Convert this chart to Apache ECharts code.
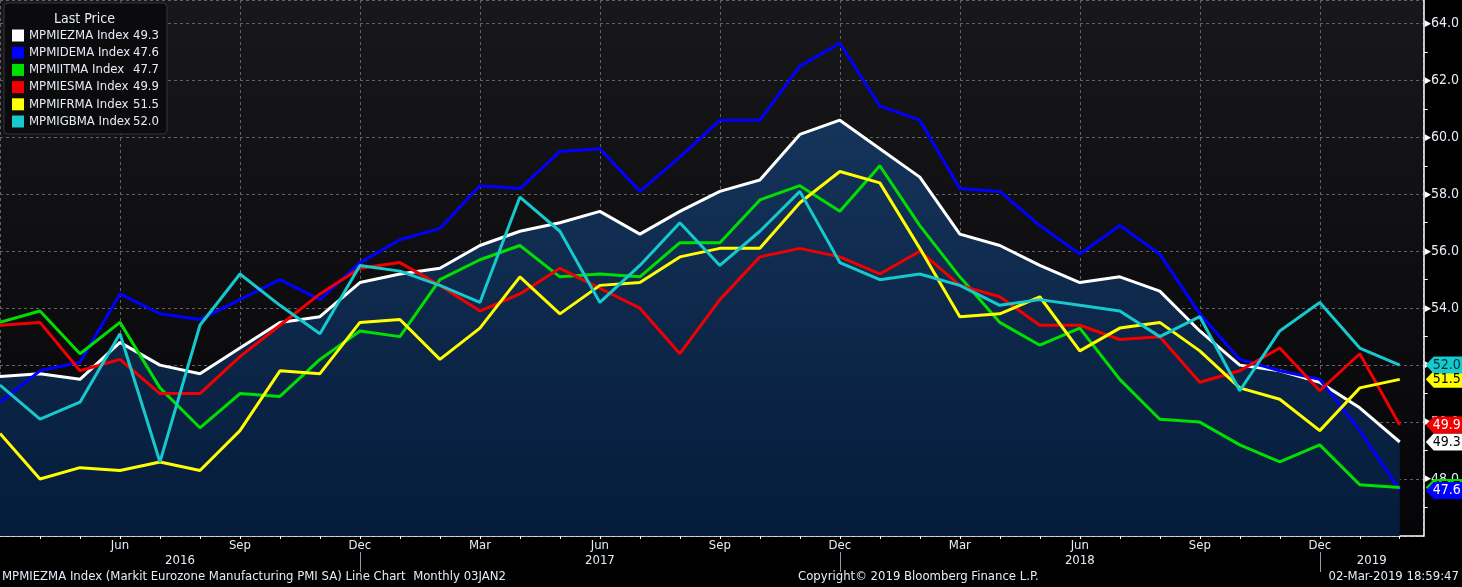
<!DOCTYPE html>
<html>
<head>
<meta charset="utf-8">
<script src="https://cdn.jsdelivr.net/npm/echarts@6/dist/echarts.min.js"></script>
<style>
html,body{margin:0;padding:0;background:#000;}
#chart{width:1462px;height:587px;}
</style>
</head>
<body>
<div id="chart"></div>
<script>
// ---- Data (monthly, Mar 2016 .. Feb 2019) ----
const dates = ['2016-03','2016-04','2016-05','2016-06','2016-07','2016-08','2016-09','2016-10','2016-11','2016-12',
  '2017-01','2017-02','2017-03','2017-04','2017-05','2017-06','2017-07','2017-08','2017-09','2017-10','2017-11','2017-12',
  '2018-01','2018-02','2018-03','2018-04','2018-05','2018-06','2018-07','2018-08','2018-09','2018-10','2018-11','2018-12',
  '2019-01','2019-02'];
const seriesNames = ['MPMIEZMA Index','MPMIDEMA Index','MPMIITMA Index','MPMIESMA Index','MPMIFRMA Index','MPMIGBMA Index'];
const ezValues = [51.6,51.7,51.5,52.8,52.0,51.7,52.6,53.5,53.7,54.9,55.2,55.4,56.2,56.7,57.0,57.4,56.6,57.4,58.1,58.5,60.1,60.6,59.6,58.6,56.6,56.2,55.5,54.9,55.1,54.6,53.2,52.0,51.8,51.4,50.5,49.3];
const deValues = [50.7,51.8,52.1,54.5,53.8,53.6,54.3,55.0,54.3,55.6,56.4,56.8,58.3,58.2,59.5,59.6,58.1,59.3,60.6,60.6,62.5,63.3,61.1,60.6,58.2,58.1,56.9,55.9,56.9,55.9,53.8,52.2,51.8,51.5,49.7,47.6];
const itValues = [53.5,53.9,52.4,53.5,51.2,49.8,51.0,50.9,52.2,53.2,53.0,55.0,55.7,56.2,55.1,55.2,55.1,56.3,56.3,57.8,58.3,57.4,59.0,56.9,55.1,53.5,52.7,53.3,51.5,50.1,50.0,49.2,48.6,49.2,47.8,47.7];
const esValues = [53.4,53.5,51.8,52.2,51.0,51.0,52.3,53.4,54.5,55.4,55.6,54.8,53.9,54.5,55.4,54.7,54.0,52.4,54.3,55.8,56.1,55.8,55.2,56.0,54.8,54.4,53.4,53.4,52.9,53.0,51.4,51.8,52.6,51.1,52.4,49.9];
const frValues = [49.6,48.0,48.4,48.3,48.6,48.3,49.7,51.8,51.7,53.5,53.6,52.2,53.3,55.1,53.8,54.8,54.9,55.8,56.1,56.1,57.7,58.8,58.4,56.1,53.7,53.8,54.4,52.5,53.3,53.5,52.5,51.2,50.8,49.7,51.2,51.5];
const gbValues = [51.3,50.1,50.7,53.1,48.6,53.4,55.2,54.1,53.1,55.5,55.3,54.8,54.2,57.9,56.7,54.2,55.5,57.0,55.5,56.7,58.1,55.6,55.0,55.2,54.8,54.1,54.3,54.1,53.9,53.0,53.7,51.1,53.2,54.2,52.6,52.0];
const monthNames = ['Jan','Feb','Mar','Apr','May','Jun','Jul','Aug','Sep','Oct','Nov','Dec'];
const yTickValues = [48,50,52,54,56,58,60,62,64];

// ---- Styles ----
const FONT = '"DejaVu Sans Condensed","Liberation Sans Narrow","DejaVu Sans",sans-serif';
const TXT = '#e6ecf7';
const XMAX = 35.6;
const allValues = [ezValues, deValues, itValues, esValues, frValues, gbValues];
const colors = ['#ffffff','#0000ff','#00e000','#f00000','#ffff00','#15c9cc'];
const tagText = ['#000000','#ffffff','#000000','#ffffff','#000000','#06303a'];
const tagZ = [5,7,5,5,5,5];

const lastMap = {};
seriesNames.forEach((n,i)=>{ lastMap[n] = allValues[i][allValues[i].length-1].toFixed(1); });

// year separators / labels derived from dates
const sepIdx = [];
dates.forEach((d,i)=>{ if (d.slice(5) === '12') sepIdx.push(i); });
const bounds = [0].concat(sepIdx, [XMAX]);
const yearCenters = [];
const yearOfCenter = {};
for (let k=0;k<bounds.length-1;k++){
  const c = Math.round((bounds[k]+bounds[k+1])/2*100)/100;
  yearCenters.push(c);
  yearOfCenter[c] = dates[Math.min(Math.ceil(bounds[k]) + (k===0?0:1), dates.length-1)].slice(0,4);
}

const series = seriesNames.map((name,i)=>{
  const vals = allValues[i];
  const last = vals[vals.length-1];
  const s = {
    name: name,
    type: 'line',
    xAxisIndex: 0,
    yAxisIndex: 0,
    data: vals.map((v,j)=>[j,v]),
    symbol: 'none',
    color: colors[i],
    lineStyle: {color: colors[i], width: 3},
    z: 2 + i*0.01,
    markPoint: {
      symbol: 'path://M0,50 L20,0 L100,0 L100,100 L20,100 Z',
      symbolSize: [40, 17],
      symbolKeepAspect: false,
      symbolOffset: [22, 0],
      silent: true,
      z: tagZ[i],
      itemStyle: {color: colors[i]},
      label: {show: true, position: 'inside', offset: [1, 0], color: tagText[i], fontSize: 14, fontFamily: FONT,
        formatter: ()=> last.toFixed(1)},
      data: [{coord: [XMAX, last], value: last}]
    }
  };
  if (i === 0) {
    s.areaStyle = {
      color: new echarts.graphic.LinearGradient(0,0,0,1,[
        {offset:0, color:'#15345a'},
        {offset:1, color:'#051b3a'}
      ]),
      opacity: 1
    };
  }
  return s;
});

const chart = echarts.init(document.getElementById('chart'));
chart.setOption({
  backgroundColor: '#000000',
  animation: false,
  textStyle: {fontFamily: FONT},
  title: [
    {text: 'Last Price', left: 54, top: 12, padding: 0, textStyle: {color: TXT, fontSize: 14, fontWeight: 'normal', fontFamily: FONT}},
    {text: 'MPMIEZMA Index (Markit Eurozone Manufacturing PMI SA) Line Chart  Monthly 03JAN2', left: 2, top: 570, padding: 0,
      textStyle: {color: TXT, fontSize: 13, fontWeight: 'normal', fontFamily: FONT}},
    {text: 'Copyright\u00A9 2019 Bloomberg Finance L.P.', left: 798, top: 570, padding: 0,
      textStyle: {color: TXT, fontSize: 13, fontWeight: 'normal', fontFamily: FONT}},
    {text: '02-Mar-2019 18:59:47', right: 3, top: 570, padding: 0,
      textStyle: {color: TXT, fontSize: 13, fontWeight: 'normal', fontFamily: FONT}}
  ],
  legend: {
    data: seriesNames,
    left: 4, top: 3, orient: 'vertical', icon: 'rect',
    itemWidth: 12, itemHeight: 12, itemGap: 4.2,
    padding: [26, 8, 6, 8],
    backgroundColor: '#0b0b0e', borderColor: '#34343a', borderWidth: 1, borderRadius: 4,
    selectedMode: false,
    formatter: name => `{n|${name}}{v|${lastMap[name]}}`,
    textStyle: {
      color: TXT, fontSize: 13, fontFamily: FONT,
      rich: {
        n: {width: 104, fontSize: 13, color: TXT, lineHeight: 12, fontFamily: FONT},
        v: {width: 26, align: 'right', fontSize: 13, color: TXT, lineHeight: 12, fontFamily: FONT}
      }
    }
  },
  grid: {
    left: 0, right: 38, top: 0, height: 536, show: true, borderWidth: 0,
    backgroundColor: new echarts.graphic.LinearGradient(0,0,0,1,[
      {offset:0, color:'#18181b'},
      {offset:1, color:'#050507'}
    ])
  },
  xAxis: [
    { // month axis
      type: 'value', min: 0, max: XMAX, interval: 1, position: 'bottom',
      axisLine: {show: true, onZero: false, lineStyle: {color: '#ffffff', width: 1.5}},
      axisTick: {show: true, length: 3, lineStyle: {color: '#ffffff'}},
      splitLine: {show: false},
      axisLabel: {
        color: TXT, fontSize: 13, margin: 3, fontFamily: FONT,
        showMinLabel: false, showMaxLabel: false,
        formatter: v => {
          const i = Math.round(v);
          if (Math.abs(v - i) > 1e-6 || i <= 0 || i >= dates.length) return '';
          const m = parseInt(dates[i].slice(5), 10);
          return (m % 3 === 0) ? monthNames[m-1] : '';
        }
      }
    },
    { // year axis
      type: 'value', min: 0, max: XMAX, position: 'bottom', offset: 16,
      axisLine: {show: false, onZero: false},
      axisTick: {show: true, customValues: sepIdx, length: 20, lineStyle: {color: '#9a9aa0', width: 1}},
      splitLine: {show: false},
      axisLabel: {
        color: TXT, fontSize: 13, margin: 2, fontFamily: FONT,
        customValues: yearCenters,
        formatter: v => yearOfCenter[v] || ''
      }
    },
    { // vertical grid lines every quarter
      type: 'value', min: 0, max: XMAX, interval: 3, position: 'bottom',
      axisLine: {show: false}, axisTick: {show: false}, axisLabel: {show: false},
      splitLine: {show: true, lineStyle: {color: '#616168', type: [3, 3], width: 1}}
    }
  ],
  yAxis: {
    type: 'value', position: 'right', min: 46, max: 64.82, interval: 2,
    axisLine: {show: true, onZero: false, lineStyle: {color: '#ffffff', width: 1.5}},
    axisTick: {show: false},
    minorTick: {show: true, splitNumber: 2, length: 4, lineStyle: {color: '#ffffff'}},
    splitLine: {show: true, lineStyle: {color: '#616168', type: [3, 3], width: 1}},
    axisLabel: {
      margin: 1, showMinLabel: false, showMaxLabel: false,
      formatter: v => yTickValues.some(t => Math.abs(t - v) < 1e-6) ? `{t|\u25B6}{v|${v.toFixed(1)}}` : '',
      rich: {
        t: {color: '#ffffff', fontSize: 9, padding: [0, 0, 0, 0]},
        v: {color: TXT, fontSize: 14, fontFamily: FONT}
      }
    }
  },
  series: series
});
</script>
</body>
</html>
